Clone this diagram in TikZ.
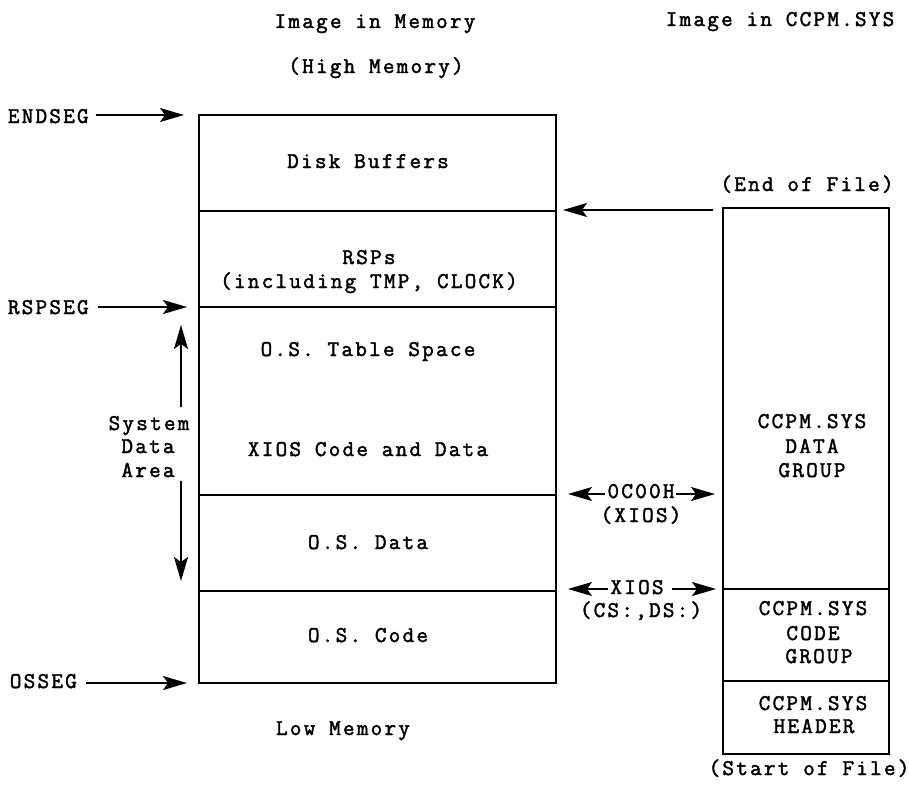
\documentclass[tikz,border=0pt]{standalone}
\usepackage{fontspec}
\setmonofont{Latin Modern Mono}[FakeBold=2,LetterSpace=10]
\usetikzlibrary{arrows.meta}
\begin{document}
\begin{tikzpicture}[x=1pt,y=-1pt,
  font=\ttfamily\fontsize{22.5}{24}\selectfont,
  line width=1.8pt,
  arr/.style={line width=1.7pt,-{Stealth[length=24pt,width=14pt,inset=5pt]}},
  tl/.style={inner sep=0pt, anchor=base},
  lftlbl/.style={inner sep=0pt, anchor=base west}]
\useasboundingbox (0,0) rectangle (909,784);
% left column (memory image)
\coordinate (LTL) at (199,115);
\coordinate (LTR) at (556,115);
\coordinate (L1l) at (199,211);
\coordinate (L1r) at (556,211);
\coordinate (L2l) at (199,307);
\coordinate (L2r) at (556,307);
\coordinate (L3l) at (199,495);
\coordinate (L3r) at (556,495);
\coordinate (L4l) at (199,591);
\coordinate (L4r) at (556,591);
\coordinate (LBL) at (199,683);
\coordinate (LBR) at (556,683);
\draw (LTL) rectangle (LBR);
\draw (L1l) -- (L1r);
\draw (L2l) -- (L2r);
\draw (L3l) -- (L3r);
\draw (L4l) -- (L4r);
% right column (file image)
\coordinate (RTL) at (723,208);
\coordinate (RBR) at (889,754);
\coordinate (R1l) at (723,589);
\coordinate (R1r) at (889,589);
\coordinate (R2l) at (723,681);
\coordinate (R2r) at (889,681);
\draw (RTL) rectangle (RBR);
\draw (R1l) -- (R1r);
\draw (R2l) -- (R2r);

% titles
\node[tl] (t1) at (375,28) {Image in Memory};
\node[tl] (t2) at (376,73) {(High Memory)};
\node[tl] (t3) at (780,26) {Image in CCPM.SYS};
\node[tl] (t4) at (343,735) {Low Memory};
\node[tl] (t5) at (807,191) {(End of File)};
\node[tl] (t6) at (809,775) {(Start of File)};

% left box contents
\node[tl] (db) at (368,168) {Disk Buffers};
\node[tl] (rsp1) at (369,264) {RSPs};
\node[tl] (rsp2) at (369,288) {(including TMP, CLOCK)};
\node[tl] (ost) at (368,356) {O.S. Table Space};
\node[tl] (xcd) at (368,456) {XIOS Code and Data};
\node[tl] (osd) at (368,549) {O.S. Data};
\node[tl] (osc) at (368,642) {O.S. Code};

% right box contents
\node[tl] (dg1) at (812,428) {CCPM.SYS};
\node[tl] (dg2) at (812,453) {DATA};
\node[tl] (dg3) at (812,477) {GROUP};
\node[tl] (cg1) at (813,615) {CCPM.SYS};
\node[tl] (cg2) at (813,640) {CODE};
\node[tl] (cg3) at (819,663) {GROUP};
\node[tl] (hd1) at (813,710) {CCPM.SYS};
\node[tl] (hd2) at (814,733) {HEADER};

% segment labels
\node[lftlbl] (endseg) at (7,123) {ENDSEG};
\node[lftlbl] (rspseg) at (7,314) {RSPSEG};
\node[lftlbl] (osseg) at (9,688) {OSSEG};
\coordinate (ea) at (184,115);
\coordinate (ra) at (187,307);
\coordinate (oa) at (187,683);
\draw[arr] (endseg.east |- ea) ++(6,0) -- (ea);
\draw[arr] (rspseg.east |- ra) ++(8,0) -- (ra);
\draw[arr] (osseg.east |- oa) ++(8,0) -- (oa);

% system data area
\node[tl] (sda1) at (149,430) {System};
\node[tl] (sda2) at (148,453) {Data};
\node[tl] (sda3) at (148,477) {Area};
\coordinate (sdu) at (181,325);
\coordinate (sdd) at (181,581);
\draw[arr] (sdu |- sda1.north) ++(0,-8) -- (sdu);
\draw[arr] (sdd |- sda3.south) ++(0,3) -- (sdd);

% end of file arrow
\coordinate (eofs) at (713,210);
\coordinate (eofe) at (563,210);
\draw[arr] (eofs) -- (eofe);

% 0C00H
\node[tl] (oc1) at (641,498) {0C00H};
\node[tl] (oc2) at (641,522) {(XIOS)};
\coordinate (ocl) at (568,494);
\coordinate (ocr) at (715,494);
\draw[arr] (oc1.west |- ocl) ++(-2,0) -- (ocl);
\draw[arr] (oc1.east |- ocr) ++(1,0) -- (ocr);

% XIOS CS DS
\node[tl] (xl) at (637,594) {XIOS};
\node[tl] (xc) at (641,617) {(CS:,DS:)};
\coordinate (xll) at (568,589);
\coordinate (xlr) at (716,589);
\draw[arr] (xl.west |- xll) ++(-2,0) -- (xll);
\draw[arr] (xl.east |- xlr) ++(8,0) -- (xlr);
\end{tikzpicture}
\end{document}
